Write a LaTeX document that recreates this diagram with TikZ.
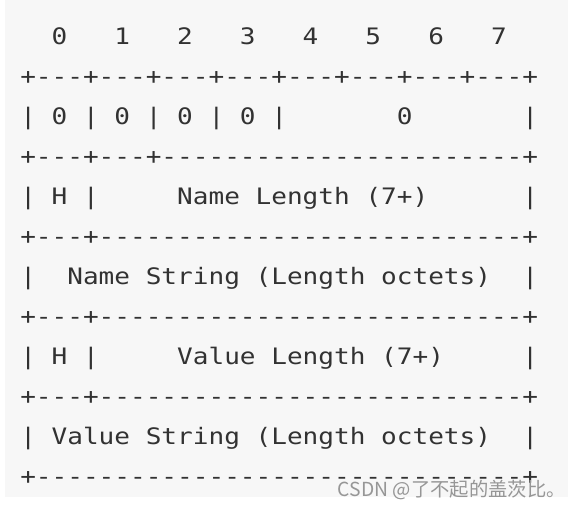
\documentclass[tikz,border=0pt]{standalone}
\usepackage{fontspec}
\setmonofont[FakeStretch=1.15,Ligatures=TeXOff]{DejaVu Sans Mono}
\newfontfamily\cjkfont{Noto Sans CJK SC}
\definecolor{paper}{RGB}{247,247,247}
\definecolor{ink}{RGB}{50,50,50}
\definecolor{credit}{RGB}{150,150,150}

\begin{document}
\begin{tikzpicture}[x=0.75pt, y=-0.75pt,
    row/.style={anchor=base west, inner sep=0pt, text=ink,
      font=\ttfamily\fontsize{17}{17}\selectfont}]
          \useasboundingbox (0,0) rectangle (568,508);
          \fill[paper] (5,0) rectangle (568,497);

          % bit numbers
          \node[row] (bits) at (20,44) {~~0~~~1~~~2~~~3~~~4~~~5~~~6~~~7};

          % first octet: pattern bits
          \node[row] (sep0) at (20,84) {+---+---+---+---+---+---+---+---+};
          \node[row] (flags) at (20,124) {|~0~|~0~|~0~|~0~|~~~~~~~0~~~~~~~|};
          \node[row] (sep1) at (20,164) {+---+---+-----------------------+};

          % name
          \node[row] (namelen) at (20,204) {|~H~|~~~~~Name~Length~(7+)~~~~~~|};
          \node[row] (sep2) at (20,244) {+---+---------------------------+};
          \node[row] (namestr) at (20,284) {|~~Name~String~(Length~octets)~~|};
          \node[row] (sep3) at (20,324) {+---+---------------------------+};

          % value
          \node[row] (valuelen) at (20,364) {|~H~|~~~~~Value~Length~(7+)~~~~~|};
          \node[row] (sep4) at (20,404) {+---+---------------------------+};
          \node[row] (valuestr) at (20,444) {|~Value~String~(Length~octets)~~|};
          \node[row] (sep5) at (20,484) {+-------------------------------+};

          % watermark
          \node[anchor=east, inner sep=0pt, text=credit,
            font=\cjkfont\fontsize{14.5}{14.5}\selectfont] (mark) at (566,490)
            {CSDN @了不起的盖茨比。};
        \end{tikzpicture}
\end{document}
